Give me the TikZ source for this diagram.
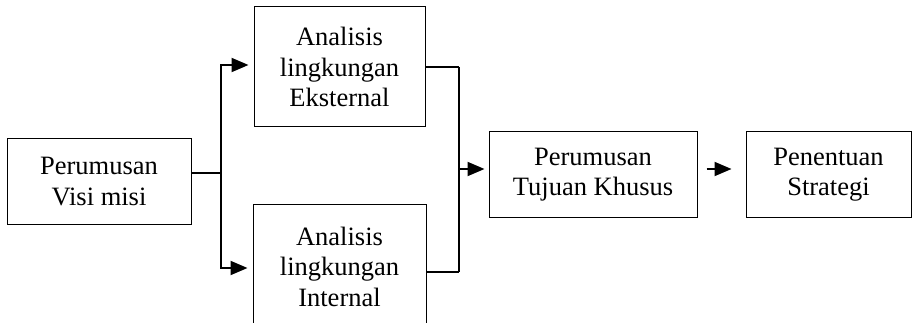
\documentclass[tikz,border=0pt]{standalone}
\usepackage{fontspec}
\setmainfont{Liberation Serif}
\usetikzlibrary{arrows.meta}

\tikzset{
  kotak/.style={draw, line width=1pt, align=center, inner sep=0pt,
    font=\fontsize{26.5}{30.5}\selectfont},
  garis/.style={line width=2pt},
  panah/.style={garis, -{Triangle[length=17pt,width=14pt]}}
}

\begin{document}
\begin{tikzpicture}[x=1pt, y=-1pt]
  \clip (0,0) rectangle (912,323);
  % kotak-kotak
  \node[kotak, minimum width=184pt, minimum height=85pt] (visi) at (99,181.5) {Perumusan\\Visi misi};
  \node[kotak, minimum width=171pt, minimum height=120pt] (eks) at (339.5,67) {Analisis\\lingkungan\\Eksternal};
  \node[kotak, minimum width=173pt, minimum height=125pt] (int) at (339.5,266.5) {Analisis\\lingkungan\\Internal};
  \node[kotak, minimum width=208pt, minimum height=85pt] (tuj) at (593,174.5) {Perumusan\\Tujuan Khusus};
  \node[kotak, minimum width=165pt, minimum height=85pt] (str) at (828.5,174.5) {Penentuan\\Strategi};
  % cabang ke dua analisis
  \coordinate (cabang) at (221,173);
  \coordinate (gabung) at (459,169);
  \draw[garis] (visi.east |- cabang) -- (cabang);
  \draw[panah, shorten >=5pt] (cabang) |- ([yshift=2pt]eks.west);
  \draw[panah, shorten >=5pt] (cabang) |- ([yshift=-1.5pt]int.west);
  % gabung ke tujuan
  \draw[garis] (eks.east) -- (eks.east -| gabung);
  \draw[garis] ([yshift=-5.5pt]int.east) -- ([yshift=-5.5pt]int.east -| gabung);
  \draw[garis] (gabung |- eks.east) -- ([yshift=-5.5pt]int.east -| gabung);
  \draw[panah, shorten >=4pt] (gabung) -- (gabung -| tuj.west);
  \draw[panah, shorten <=9pt, shorten >=14pt] ([yshift=5.5pt]tuj.east) -- ([yshift=5.5pt]str.west);
\end{tikzpicture}
\end{document}
